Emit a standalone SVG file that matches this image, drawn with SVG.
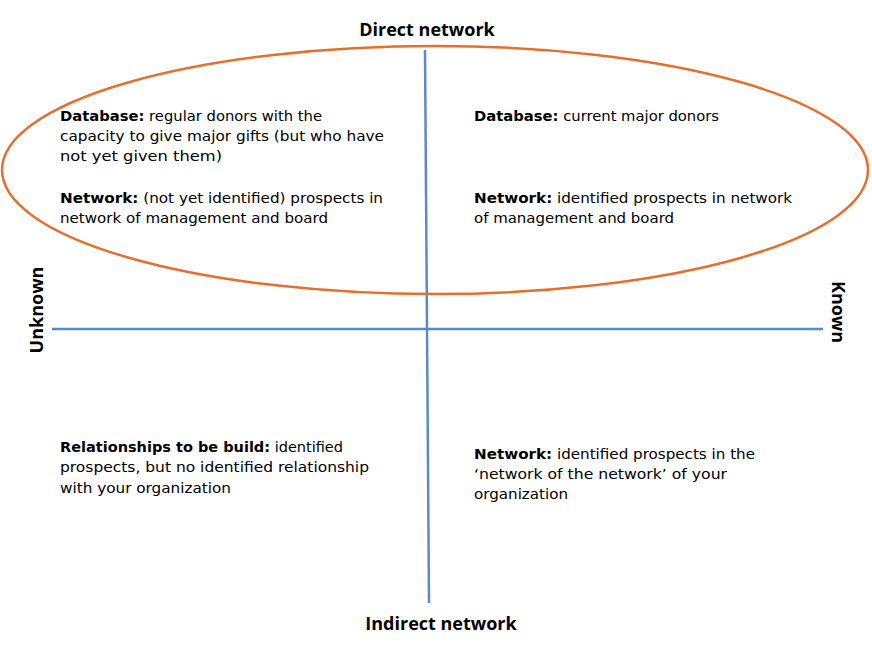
<svg xmlns="http://www.w3.org/2000/svg" width="872" height="646" viewBox="0 0 872 646">
<style>
.t{font-family:"DejaVu Sans","Verdana",sans-serif;font-size:14.8px;fill:#000}
.b{font-weight:bold}
.h{font-family:"Open Sans","Liberation Sans",sans-serif;font-weight:bold;font-size:18px;fill:#000}
.ax{stroke:#5B8BC4;stroke-width:2.5;fill:none}
</style>
<rect width="872" height="646" fill="#fff"/>
<g id="connectors">
<line class="ax" x1="425" y1="50" x2="429" y2="603"/>
<line class="ax" x1="52" y1="329" x2="823" y2="329"/>
</g>
<g id="ellipse">
<ellipse cx="435" cy="170" rx="433" ry="124" fill="none" stroke="#E3702F" stroke-width="2.5"/>
</g>
<g id="label-direct"><text class="h" x="427" y="36" text-anchor="middle">Direct network</text></g>
<g id="label-indirect"><text class="h" x="441" y="630" text-anchor="middle">Indirect network</text></g>
<g id="label-unknown"><text class="h" transform="translate(43,310) rotate(-90)" text-anchor="middle">Unknown</text></g>
<g id="label-known"><text class="h" transform="translate(832,312) rotate(90)" text-anchor="middle">Known</text></g>
<g id="q-top-left">
<text class="t" x="60" y="121" textLength="262" lengthAdjust="spacingAndGlyphs"><tspan class="b">Database:</tspan> regular donors with the</text>
<text class="t" x="60" y="141" textLength="324" lengthAdjust="spacingAndGlyphs">capacity to give major gifts (but who have</text>
<text class="t" x="60" y="161" textLength="162" lengthAdjust="spacingAndGlyphs">not yet given them)</text>
<text class="t" x="60" y="203" textLength="323" lengthAdjust="spacingAndGlyphs"><tspan class="b">Network:</tspan> (not yet identified) prospects in</text>
<text class="t" x="60" y="223" textLength="268" lengthAdjust="spacingAndGlyphs">network of management and board</text>
</g>
<g id="q-top-right">
<text class="t" x="474" y="121" textLength="245" lengthAdjust="spacingAndGlyphs"><tspan class="b">Database:</tspan> current major donors</text>
<text class="t" x="474" y="203" textLength="318" lengthAdjust="spacingAndGlyphs"><tspan class="b">Network:</tspan> identified prospects in network</text>
<text class="t" x="474" y="223" textLength="200" lengthAdjust="spacingAndGlyphs">of management and board</text>
</g>
<g id="q-bottom-left">
<text class="t" x="60" y="452" textLength="283" lengthAdjust="spacingAndGlyphs"><tspan class="b">Relationships to be build:</tspan> identified</text>
<text class="t" x="60" y="472" textLength="309" lengthAdjust="spacingAndGlyphs">prospects, but no identified relationship</text>
<text class="t" x="60" y="493" textLength="171" lengthAdjust="spacingAndGlyphs">with your organization</text>
</g>
<g id="q-bottom-right">
<text class="t" x="474" y="459" textLength="281" lengthAdjust="spacingAndGlyphs"><tspan class="b">Network:</tspan> identified prospects in the</text>
<text class="t" x="474" y="479" textLength="253" lengthAdjust="spacingAndGlyphs">‘network of the network’ of your</text>
<text class="t" x="474" y="499" textLength="94" lengthAdjust="spacingAndGlyphs">organization</text>
</g>
</svg>
